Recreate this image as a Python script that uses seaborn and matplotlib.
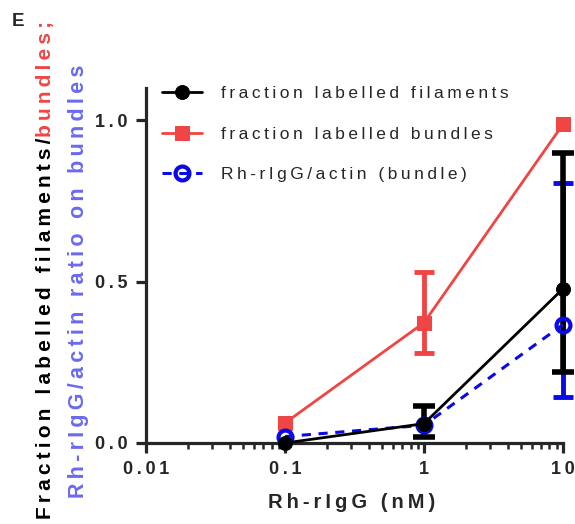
import seaborn as sns
import matplotlib.pyplot as plt
import pandas as pd

# data
conc = [0.1, 1, 10]
filaments = [0.0, 0.06, 0.478]
filaments_lo = [0.0, 0.04, 0.258]
filaments_hi = [0.0, 0.055, 0.422]
bundles = [0.062, 0.373, 0.988]
bundles_lo = [0.0, 0.093, 0.0]
bundles_hi = [0.0, 0.157, 0.0]
ratio = [0.02, 0.055, 0.367]
ratio_lo = [0.0, 0.0, 0.224]
ratio_hi = [0.0, 0.0, 0.44]

names = ["fraction labelled filaments", "fraction labelled bundles", "Rh-rIgG/actin (bundle)"]
red = "#f04545"
blue = "#0a0ae6"
light_blue = "#6a6af0"


def spaced(s):
    # GraphPad-style letter spacing using thin spaces
    return "\u2009".join(s)


def bars(x, y, lo, hi, **kw):
    # only draw error bars where there is an error
    keep = [i for i in range(len(x)) if lo[i] > 0 or hi[i] > 0]
    ax.errorbar([x[i] for i in keep], [y[i] for i in keep],
                yerr=[[lo[i] for i in keep], [hi[i] for i in keep]],
                fmt="none", clip_on=False, **kw)


sns.set_style("ticks")
plt.rcParams["font.family"] = ["Liberation Sans", "DejaVu Sans"]

fig = plt.figure(figsize=(5.75, 5.24), dpi=100)
ax = fig.add_axes([0.254, 0.1546, 0.725, 0.677])

df = pd.DataFrame({"x": conc * 3,
                   "y": bundles + ratio + filaments,
                   "s": [names[1]] * 3 + [names[2]] * 3 + [names[0]] * 3})

# red bundles
bars(conc, bundles, bundles_lo, bundles_hi, ecolor=red, elinewidth=3.5, capsize=7,
     capthick=3.5, zorder=2)
sns.lineplot(data=df[df.s == names[1]], x="x", y="y", ax=ax, color=red, lw=2,
             marker="s", markersize=10, markeredgecolor=red, zorder=3, clip_on=False,
             label=spaced(names[1]))
# blue ratio
bars(conc, ratio, ratio_lo, ratio_hi, ecolor=blue, elinewidth=3.5, capsize=7,
     capthick=3.5, zorder=4)
sns.lineplot(data=df[df.s == names[2]], x="x", y="y", ax=ax, color=blue, lw=2.2,
             marker="o", markersize=10, markerfacecolor="none",
             markeredgewidth=3, markeredgecolor=blue, zorder=6, clip_on=False,
             label=spaced(names[2]))
# black filaments
bars(conc, filaments, filaments_lo, filaments_hi, ecolor="black", elinewidth=4,
     capsize=8, capthick=4, zorder=5)
sns.lineplot(data=df[df.s == names[0]], x="x", y="y", ax=ax, color="black", lw=2,
             marker="o", markersize=10, markeredgecolor="black", zorder=7, clip_on=False,
             label=spaced(names[0]))
for ln in ax.lines:
    if ln.get_color() == blue:
        ln.set_linestyle((0, (3, 2.5)))

ax.set_xscale("log")
ax.set_xlim(0.01, 10)
ax.set_ylim(0, 1.1)
ax.set_yticks([0.0, 0.5, 1.0])
ax.set_yticklabels([spaced(t) for t in ["0.0", "0.5", "1.0"]])
ax.set_xticks([0.01, 0.1, 1, 10])
ax.set_xticklabels([spaced(t) for t in ["0.01", "0.1", "1", "10"]])
ax.set_xlabel("")
ax.set_ylabel("")
for s in ["top", "right"]:
    ax.spines[s].set_visible(False)
for s in ["left", "bottom"]:
    ax.spines[s].set_linewidth(2.3)
ax.tick_params(axis="both", which="major", width=2.3, length=7, labelsize=13, pad=6)
ax.tick_params(axis="x", which="minor", width=1.8, length=4)
for lab in ax.get_xticklabels() + ax.get_yticklabels():
    lab.set_fontweight("bold")

h, l = ax.get_legend_handles_labels()
order = [l.index(spaced(n)) for n in names]
leg = ax.legend([h[i] for i in order], [l[i] for i in order], loc="upper left",
                bbox_to_anchor=(0.0, 1.05), frameon=False, fontsize=12.5,
                handlelength=2.3, labelspacing=1.45, handletextpad=1.1)

fig.text(0.612, 0.022, spaced("Rh-rIgG (nM)"), ha="center", va="bottom", fontsize=14.5,
         fontweight="bold")
fig.text(0.02, 0.975, "E", fontsize=13.5, fontweight="bold", va="top")

# two-colour y label
fig.canvas.draw()
r = fig.canvas.get_renderer()
t1 = fig.text(0.079, 0.01, spaced("Fraction labelled filaments/"), rotation=90,
              ha="center", va="bottom", fontsize=15, fontweight="bold", color="black")
bb = t1.get_window_extent(r).transformed(fig.transFigure.inverted())
fig.text(0.079, bb.y1, spaced("bundles;"), rotation=90, ha="center", va="bottom",
         fontsize=15, fontweight="bold", color=red)
fig.text(0.137, 0.05, spaced("Rh-rIgG/actin ratio on bundles"), rotation=90, ha="center",
         va="bottom", fontsize=15.5, fontweight="bold", color=light_blue)

fig.savefig("out.png", dpi=100)
